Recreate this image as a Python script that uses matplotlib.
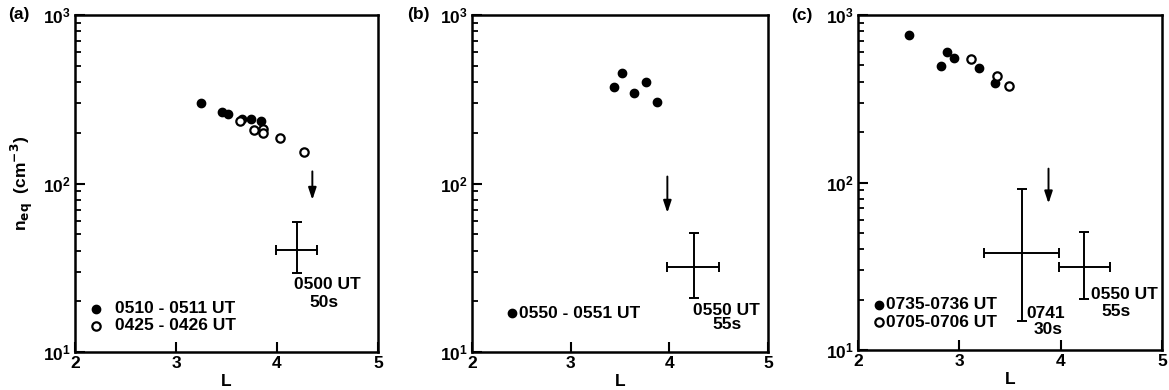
import matplotlib
matplotlib.use("Agg")
import matplotlib.pyplot as plt
from matplotlib.ticker import LogLocator, FixedLocator, NullLocator

plt.rcParams['font.family'] = ['Liberation Sans', 'DejaVu Sans']
plt.rcParams['font.weight'] = 'bold'
plt.rcParams['mathtext.default'] = 'bf'

# ---------------- data ----------------
# panel (a)
a_fill_L = [3.25, 3.46, 3.51, 3.65, 3.74, 3.84]
a_fill_n = [300, 264, 257, 241, 241, 234]
a_open_L = [3.63, 3.77, 3.86, 3.86, 4.03, 4.27]
a_open_n = [234, 209, 211, 200, 185, 153]
a_arrow_L = [4.35]
a_arrow_n = [118, 80]
a_err_L = [4.20]
a_err_n = [40.2]
a_err_Llo = [3.99]
a_err_Lhi = [4.40]
a_err_nlo = [29.5]
a_err_nhi = [59]
a_legend = ['0510 - 0511 UT', '0425 - 0426 UT']
a_note = ['0500 UT', '50s']

# panel (b)
b_fill_L = [3.44, 3.52, 3.64, 3.76, 3.87]
b_fill_n = [376, 451, 343, 398, 306]
b_arrow_L = [3.98]
b_arrow_n = [110, 67]
b_err_L = [4.25]
b_err_n = [32]
b_err_Llo = [3.98]
b_err_Lhi = [4.50]
b_err_nlo = [20.8]
b_err_nhi = [51]
b_legend = ['0550 - 0551 UT']
b_note = ['0550 UT', '55s']

# panel (c)
c_fill_L = [2.50, 2.88, 2.95, 2.82, 3.19, 3.35]
c_fill_n = [763, 601, 556, 494, 481, 391]
c_open_L = [3.12, 3.37, 3.49]
c_open_n = [546, 434, 377]
c_arrow_L = [3.88]
c_arrow_n = [121, 75]
c_err_L = [3.62, 4.23]
c_err_n = [37.8, 31.4]
c_err_Llo = [3.24, 3.98]
c_err_Lhi = [3.98, 4.49]
c_err_nlo = [15.0, 20.1]
c_err_nhi = [92, 50.8]
c_legend = ['0735-0736 UT', '0705-0706 UT']
c_note1 = ['0741', '30s']
c_note2 = ['0550 UT', '55s']

x_ticks = [2, 3, 4, 5]
panel_labels = ['(a)', '(b)', '(c)']

# ---------------- figure ----------------
fig = plt.figure(figsize=(11.69, 3.90), dpi=100)
W, H = 1169, 390
def add_ax(left, right, top, bottom):
    return fig.add_axes([left / W, 1 - bottom / H, (right - left) / W, (bottom - top) / H])

axa = add_ax(75, 378, 15, 352)
axb = add_ax(472, 768, 15, 352)
axc = add_ax(858, 1162, 15, 350)
axes = [axa, axb, axc]

FS = 12.5
msz = 6

for ax, lab in zip(axes, panel_labels):
    ax.set_xscale('linear')
    ax.set_yscale('log')
    ax.set_xlim(2, 5)
    ax.set_ylim(10, 1000)
    ax.xaxis.set_major_locator(FixedLocator(x_ticks))
    ax.xaxis.set_minor_locator(NullLocator())
    ax.yaxis.set_major_locator(LogLocator(base=10, numticks=5))
    ax.yaxis.set_minor_locator(LogLocator(base=10, subs=range(2, 10), numticks=20))
    ax.tick_params(axis='both', which='major', direction='in', length=7, width=1.5,
                   labelsize=FS, top=False, right=False, pad=3)
    ax.tick_params(axis='y', which='minor', direction='in', length=4.5, width=1.3,
                   right=False)
    for lbl in ax.get_xticklabels() + ax.get_yticklabels():
        lbl.set_fontweight('bold')
    for sp in ax.spines.values():
        sp.set_linewidth(1.8)
    ax.set_xlabel('L', fontsize=FS, fontweight='bold', labelpad=2)
    ax.text(-0.22, 1.0, lab, transform=ax.transAxes, fontsize=FS, fontweight='bold',
            ha='left', va='center')

axa.set_ylabel(r'n$_{\mathbf{eq}}$  (cm$^{\mathbf{-3}}$)', fontsize=FS, fontweight='bold', labelpad=6)

def err(ax, L, n, Llo, Lhi, nlo, nhi):
    for i in range(len(L)):
        ax.errorbar([L[i]], [n[i]],
                    xerr=[[L[i] - Llo[i]], [Lhi[i] - L[i]]],
                    yerr=[[n[i] - nlo[i]], [nhi[i] - n[i]]],
                    fmt='none', ecolor='black', elinewidth=1.4, capsize=3.5, capthick=1.4)

def arrow(ax, L, n):
    ax.annotate('', xy=(L[0], n[1]), xytext=(L[0], n[0]),
                arrowprops=dict(arrowstyle='-|>,head_length=0.6,head_width=0.2', color='black', lw=1.4,
                                mutation_scale=12, shrinkA=0, shrinkB=0))

# panel (a)
axa.plot(a_fill_L, a_fill_n, 'o', color='black', ms=msz)
axa.plot(a_open_L, a_open_n, 'o', mfc='white', mec='black', mew=1.6, ms=msz)
arrow(axa, a_arrow_L, a_arrow_n)
err(axa, a_err_L, a_err_n, a_err_Llo, a_err_Lhi, a_err_nlo, a_err_nhi)
axa.text(4.5, 25, a_note[0], fontsize=FS, fontweight='bold', ha='center', va='center')
axa.text(4.47, 19.8, a_note[1], fontsize=FS, fontweight='bold', ha='center', va='center')
axa.plot([2.21], [18.1], 'o', color='black', ms=msz)
axa.plot([2.21], [14.3], 'o', mfc='white', mec='black', mew=1.6, ms=msz)
axa.text(2.40, 18.1, a_legend[0], fontsize=FS, fontweight='bold', ha='left', va='center')
axa.text(2.40, 14.3, a_legend[1], fontsize=FS, fontweight='bold', ha='left', va='center')

# panel (b)
axb.plot(b_fill_L, b_fill_n, 'o', color='black', ms=msz)
arrow(axb, b_arrow_L, b_arrow_n)
err(axb, b_err_L, b_err_n, b_err_Llo, b_err_Lhi, b_err_nlo, b_err_nhi)
axb.text(4.58, 17.7, b_note[0], fontsize=FS, fontweight='bold', ha='center', va='center')
axb.text(4.58, 14.5, b_note[1], fontsize=FS, fontweight='bold', ha='center', va='center')
axb.plot([2.41], [17.0], 'o', color='black', ms=msz)
axb.text(2.48, 17.0, b_legend[0], fontsize=FS, fontweight='bold', ha='left', va='center')

# panel (c)
axc.plot(c_fill_L, c_fill_n, 'o', color='black', ms=msz)
axc.plot(c_open_L, c_open_n, 'o', mfc='white', mec='black', mew=1.6, ms=msz)
arrow(axc, c_arrow_L, c_arrow_n)
err(axc, c_err_L, c_err_n, c_err_Llo, c_err_Lhi, c_err_nlo, c_err_nhi)
axc.text(3.66, 16.6, c_note1[0], fontsize=FS, fontweight='bold', ha='left', va='center')
axc.text(3.88, 13.3, c_note1[1], fontsize=FS, fontweight='bold', ha='center', va='center')
axc.text(4.30, 21.3, c_note2[0], fontsize=FS, fontweight='bold', ha='left', va='center')
axc.text(4.55, 16.9, c_note2[1], fontsize=FS, fontweight='bold', ha='center', va='center')
axc.plot([2.21], [18.6], 'o', color='black', ms=msz)
axc.plot([2.21], [14.6], 'o', mfc='white', mec='black', mew=1.6, ms=msz)
axc.text(2.28, 18.6, c_legend[0], fontsize=FS, fontweight='bold', ha='left', va='center')
axc.text(2.28, 14.6, c_legend[1], fontsize=FS, fontweight='bold', ha='left', va='center')

fig.savefig('out.png', dpi=100)
